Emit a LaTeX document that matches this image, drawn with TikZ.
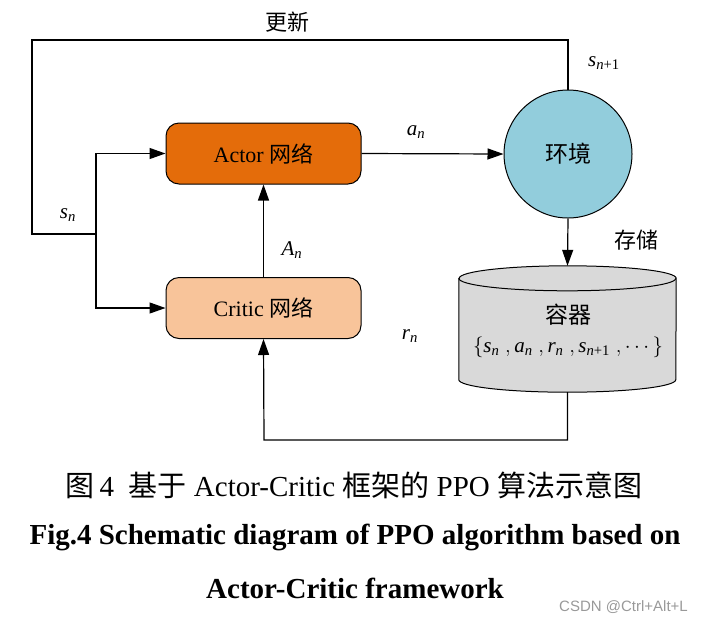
\documentclass[tikz,border=0pt]{standalone}
\usepackage{amsmath}
\usepackage{fontspec}
\setmainfont{Liberation Serif}
\newfontfamily\cjk{Noto Sans CJK SC}
\newfontfamily\wmfont{Liberation Sans}
\usetikzlibrary{arrows.meta,shapes.geometric}
\definecolor{actorfill}{HTML}{E46C0A}
\definecolor{criticfill}{HTML}{F8C49A}
\definecolor{envfill}{HTML}{92CDDC}
\definecolor{buffill}{HTML}{D9D9D9}
\newcommand{\vsub}[2]{$\textit{#1}_{\textit{#2}}$}
\begin{document}
\begin{tikzpicture}[x=1pt,y=-1pt,
  line/.style={draw=black,line width=1.2pt},
  arr/.style={line,-{Triangle[length=16pt,width=11pt]}},
  netbox/.style={draw=black,line width=1pt,rounded corners=13pt,minimum width=195pt,minimum height=61pt,inner sep=0pt,font=\fontsize{22}{26}\selectfont},
  lbl/.style={inner sep=1pt,font=\fontsize{21}{24}\selectfont},
  cjklbl/.style={inner sep=1pt,font=\fontsize{22}{26}\selectfont\cjk},
  captext/.style={inner sep=0pt,font=\fontsize{29}{33}\selectfont},
  captextb/.style={inner sep=0pt,font=\fontsize{29}{33}\selectfont\bfseries}
]
\useasboundingbox (0,0) rectangle (701,622);

% nodes
\node[netbox,fill=actorfill] (actor) at (263.5,153.5) {Actor {\cjk 网络}};
\node[netbox,fill=criticfill] (critic) at (263.5,308) {Critic {\cjk 网络}};
\node[circle,draw=black,line width=1pt,fill=envfill,minimum size=128pt,inner sep=0pt,font=\fontsize{23}{27}\selectfont\cjk] (env) at (568,154) {环境};
\node[draw=none,minimum width=217pt,minimum height=126pt,inner sep=0pt] (buffer) at (567.5,329) {};

% cylinder body
\path[fill=buffill,draw=black,line width=1pt]
  ([yshift=-12.5pt]buffer.north west) -- ([yshift=12.5pt]buffer.south west)
  arc[start angle=180,end angle=360,x radius=108.5pt,y radius=12.5pt]
  -- ([yshift=-12.5pt]buffer.north east)
  arc[start angle=0,end angle=180,x radius=108.5pt,y radius=12.5pt] -- cycle;
\draw[black,line width=1pt] ([yshift=-12.5pt]buffer.north west)
  arc[start angle=180,end angle=360,x radius=108.5pt,y radius=12.5pt];
\node[inner sep=0pt,font=\fontsize{23}{27}\selectfont\cjk] (buftitle) at (568,315) {容器};
\node[inner sep=0pt,font=\fontsize{21}{24}\selectfont] (bufset) at (568,347)
  {$\{\textit{s}_{\textit{n}}\;, \textit{a}_{\textit{n}}\;, \textit{r}_{\textit{n}}\;, \textit{s}_{\textit{n}\text{+1}}\;,\cdots\}$};

% coordinates
\coordinate (ul) at (32,40);
\coordinate (split) at (96,234);
\coordinate (bot) at (264,440);

% connectors
\draw[line] (env.north) |- (ul) |- (split);
\draw[arr] (split) |- (actor.west);
\draw[arr] (split) |- (critic.west);
\draw[arr] (critic.north) -- (actor.south);
\draw[arr] (actor.east) -- (env.west);
\draw[arr] (env.south) -- (buffer.north);
\draw[arr] (buffer.south) |- (bot) -- (critic.south);

% labels
\node[cjklbl] (lupdate) at (287,22) {更新};
\node[lbl] (lsn) at (68,215) {\vsub{s}{n}};
\node[lbl] (lsn1) at (604,63) {$\textit{s}_{\textit{n}\text{+1}}$};
\node[lbl] (lan) at (416,132) {\vsub{a}{n}};
\node[lbl] (lAn) at (292,250) {\vsub{A}{n}};
\node[cjklbl] (lstore) at (636,240) {存储};
\node[lbl] (lrn) at (410,336) {\vsub{r}{n}};

% caption
\node[captext] (cap1) at (354,485) {{\cjk 图}\,4\enspace{\cjk 基于} Actor-Critic {\cjk 框架的} PPO {\cjk 算法示意图}};
\node[captextb] (cap2) at (355,537) {Fig.4 Schematic diagram of PPO algorithm based on};
\node[captextb] (cap3) at (355,588) {Actor-Critic framework};
\node[inner sep=0pt,anchor=east,text=black!40,font=\fontsize{15}{17}\selectfont\wmfont] (wm) at (688,607) {CSDN @Ctrl+Alt+L};
\end{tikzpicture}
\end{document}
